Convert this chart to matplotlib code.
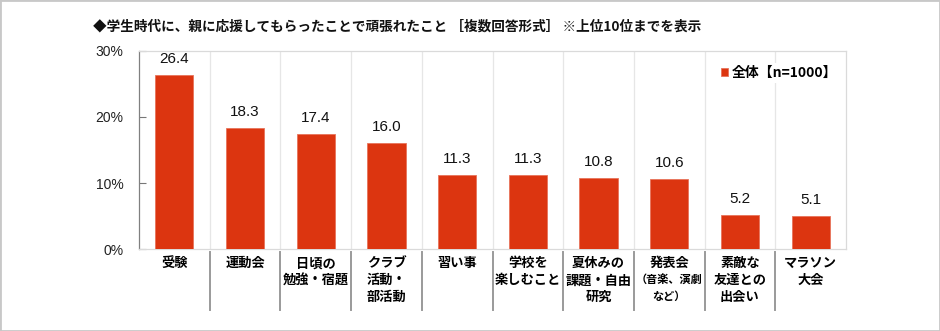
import matplotlib
matplotlib.use("Agg")
import matplotlib.pyplot as plt
from matplotlib.patches import Rectangle
from matplotlib.lines import Line2D
import matplotlib.transforms as mtransforms

plt.rcParams['font.family'] = ['Noto Sans CJK JP', 'DejaVu Sans']

# data
categories = ['受験', '運動会', '日頃の\n勉強・宿題', 'クラブ\n活動・\n部活動', '習い事',
              '学校を\n楽しむこと', '夏休みの\n課題・自由\n研究', '発表会', '素敵な\n友達との\n出会い',
              'マラソン\n大会']
notes = ['', '', '', '', '', '', '', '（音楽、演劇\nなど）', '', '']
values = [26.4, 18.3, 17.4, 16.0, 11.3, 11.3, 10.8, 10.6, 5.2, 5.1]
yticks = [0, 10, 20, 30]
series_name = '全体【n=1000】'
title = '◆学生時代に、親に応援してもらったことで頑張れたこと ［複数回答形式］ ※上位10位までを表示'

bar_col = '#dc3510'
num_font = ['Liberation Sans', 'Noto Sans CJK JP']

fig = plt.figure(figsize=(9.4, 3.31), dpi=100)
ax = fig.add_axes([0.1479, 0.2468, 0.7521, 0.6])

x = list(range(len(values)))
ax.bar(x, values, width=0.54, color=bar_col, edgecolor='#e8735a', linewidth=0.6,
       label=series_name, zorder=3)

for xi, v in zip(x, values):
    ax.annotate('%.1f' % v, (xi, v), xytext=(0, 11.5), textcoords='offset points',
                ha='center', va='center', fontsize=11, color='#111111', family=num_font)

ax.set_xlim(-0.5, len(values) - 0.5)
ax.set_ylim(0, 30)
ax.set_yticks(yticks)
ax.set_yticklabels(['%d%%' % t for t in yticks], fontsize=10, color='#222222',
                   family=num_font)
ax.tick_params(axis='y', direction='in', length=5, width=0.8, color='#777777', pad=11)

# category labels
ax.set_xticks(x)
ax.set_xticklabels(categories, fontsize=9.5, fontweight='bold', linespacing=1.27)
ax.tick_params(axis='x', length=0, pad=5)
trans = mtransforms.blended_transform_factory(ax.transData, ax.transAxes)
for xi, n in zip(x, notes):
    if n:
        ax.text(xi, -0.122, n, transform=trans, ha='center', va='top', fontsize=8,
                fontweight='bold', linespacing=1.35)

# vertical grid lines between categories
for b in range(len(values) - 1):
    ax.axvline(b + 0.5, color='#e6e6e6', lw=0.9, zorder=1)
    ax.add_line(Line2D([b + 0.5, b + 0.5], [-0.014, -0.306], transform=trans,
                       color='#9a9a9a', lw=1.4, clip_on=False))

for s in ['top', 'right', 'bottom']:
    ax.spines[s].set_color('#dadada')
    ax.spines[s].set_linewidth(0.9)
ax.spines['left'].set_color('#808080')
ax.spines['left'].set_linewidth(0.9)

leg = ax.legend(loc='center left', bbox_to_anchor=(0.809, 0.888), frameon=True,
                handlelength=0.55, handleheight=0.55, handletextpad=0.25, borderpad=0.2,
                prop={'size': 10, 'weight': 'bold'})
leg.get_frame().set_edgecolor('none')
leg.get_frame().set_facecolor('white')
leg.get_frame().set_alpha(1)

fig.text(93 / 940, 1 - 27 / 331, title, ha='left', va='center', fontsize=9.8,
         fontweight='bold', color='#111111')

fig.patches.append(Rectangle((0, 0), 1, 1, transform=fig.transFigure, fill=False,
                             edgecolor='#c8c8c8', lw=2))

fig.savefig('out.png', dpi=100)
